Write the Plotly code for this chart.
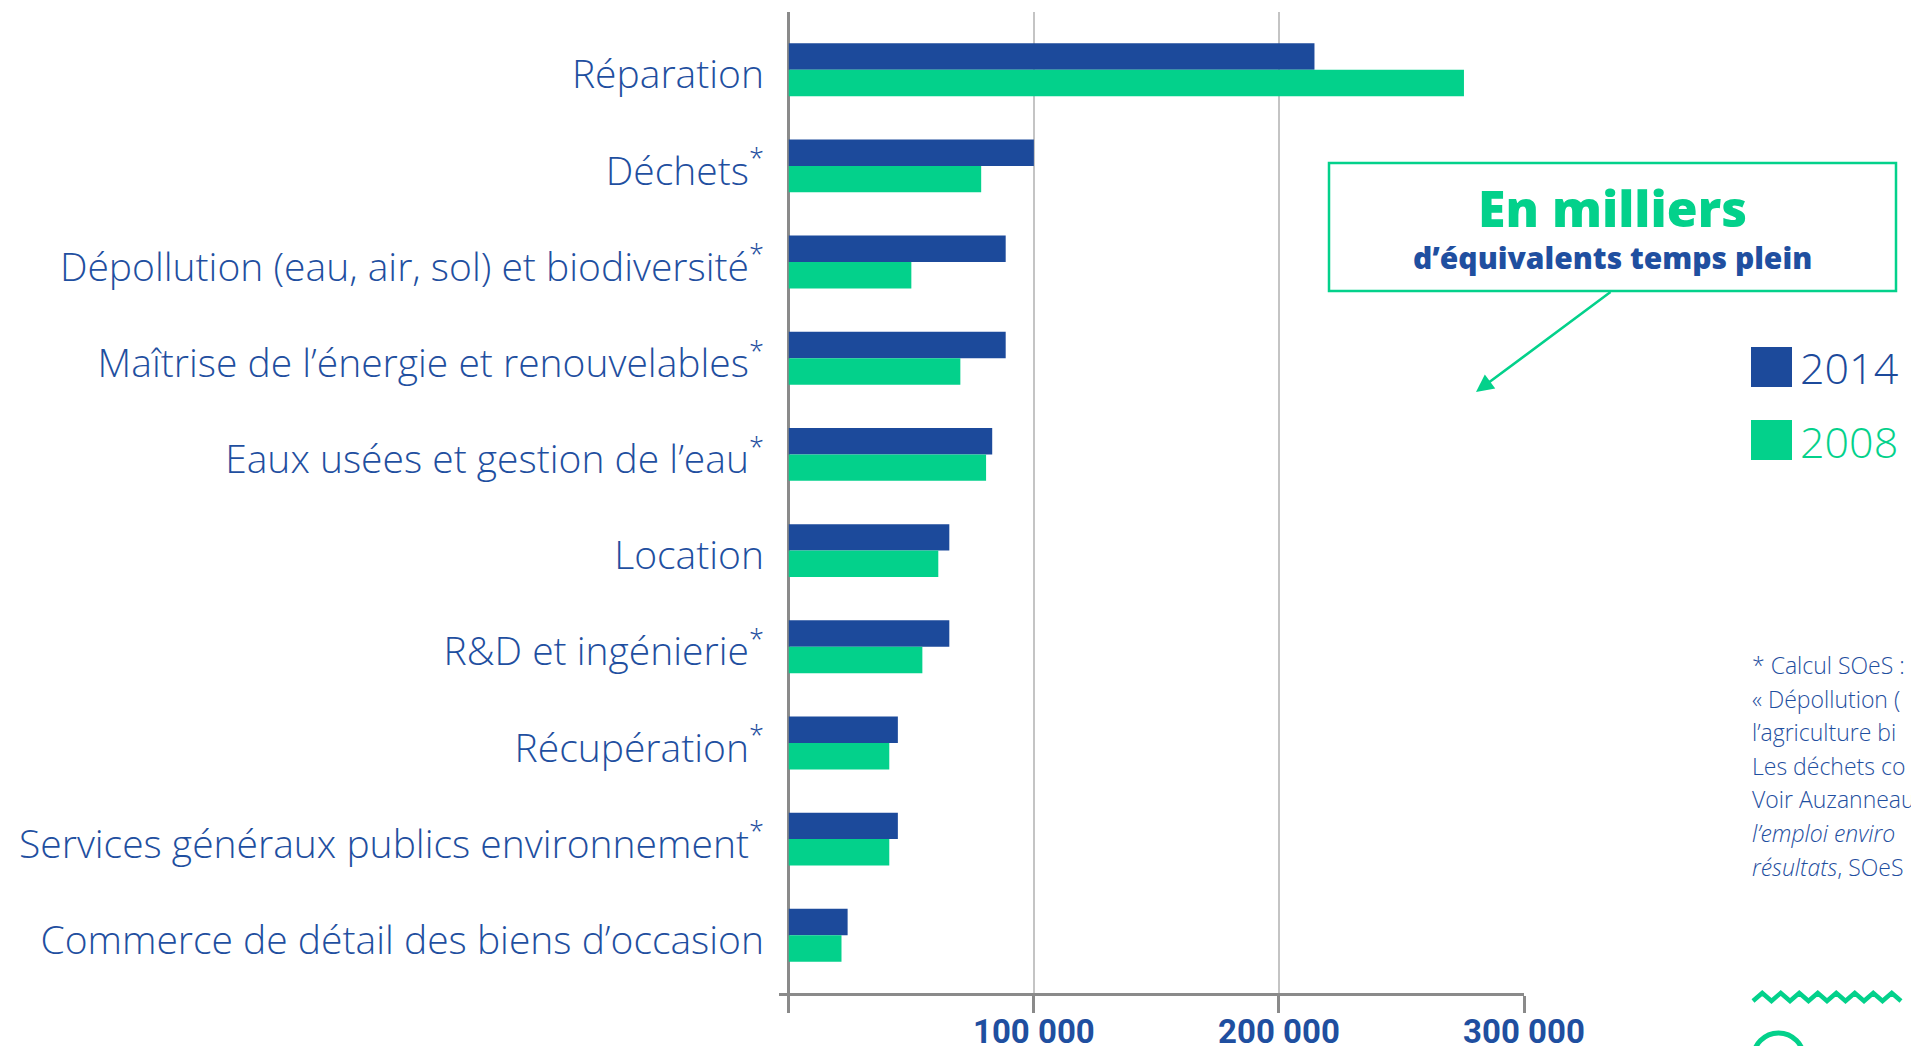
import plotly.graph_objects as go

categories = [
    "Réparation",
    "Déchets<sup>*</sup>",
    "Dépollution (eau, air, sol) et biodiversité<sup>*</sup>",
    "Maîtrise de l’énergie et renouvelables<sup>*</sup>",
    "Eaux usées et gestion de l’eau<sup>*</sup>",
    "Location",
    "R&D et ingénierie<sup>*</sup>",
    "Récupération<sup>*</sup>",
    "Services généraux publics environnement<sup>*</sup>",
    "Commerce de détail des biens d’occasion",
]
values_2014 = [214500, 100000, 88500, 88500, 83000, 65500, 65500, 44500, 44500, 24000]
values_2008 = [275500, 78500, 50000, 70000, 80500, 61000, 54500, 41000, 41000, 21500]
tick_vals = [0, 100000, 200000, 300000]
tick_text = ["", "100 000", "200 000", "300 000"]
series_names = ["2014", "2008"]

BLUE = "#1c4a9b"
GREEN = "#03d18b"
TEXT_BLUE = "#1f4fa0"

OFF = 8  # page body margin
W, H = 1919 - OFF, 1046 - OFF
# plot area in screen (reference) pixels
L, R, T, B = 779, 1524, 12, 993


def px(x):
    return (x - L) / (R - L)


def py(y):
    return (B - y) / (B - T)


fig = go.Figure()
fig.add_trace(go.Bar(y=categories, x=values_2014, orientation="h", name=series_names[0],
                     marker=dict(color=BLUE, line=dict(width=0))))
fig.add_trace(go.Bar(y=categories, x=values_2008, orientation="h", name=series_names[1],
                     marker=dict(color=GREEN, line=dict(width=0))))

shapes = []
annotations = []

# "En milliers" box
shapes.append(dict(type="rect", xref="paper", yref="paper",
                   x0=px(1329), x1=px(1896), y0=py(163), y1=py(291),
                   line=dict(color=GREEN, width=2.5), fillcolor="rgba(0,0,0,0)"))
annotations.append(dict(xref="paper", yref="paper", x=px(1612), y=py(208),
                        text="En milliers", showarrow=False,
                        font=dict(family="Open Sans", size=50, color=GREEN, weight=800),
                        xanchor="center", yanchor="middle"))
annotations.append(dict(xref="paper", yref="paper", x=px(1612), y=py(257),
                        text="d’équivalents temps plein", showarrow=False,
                        font=dict(family="Open Sans", size=30, color=TEXT_BLUE, weight=800),
                        xanchor="center", yanchor="middle"))
# arrow
annotations.append(dict(xref="paper", yref="paper", x=px(1476), y=py(392),
                        ax=1612 - 1476, ay=291 - 392, axref="pixel", ayref="pixel",
                        text="", showarrow=True, arrowhead=2, arrowsize=1.4,
                        arrowwidth=2.5, arrowcolor=GREEN))

# legend
leg = [(series_names[0], BLUE, 347), (series_names[1], GREEN, 420)]
for name, col, y0 in leg:
    shapes.append(dict(type="rect", xref="paper", yref="paper",
                       x0=px(1751), x1=px(1792), y0=py(y0), y1=py(y0 + 40),
                       line=dict(width=0), fillcolor=col))
    annotations.append(dict(xref="paper", yref="paper", x=px(1798), y=py(y0 + 21),
                            text=name, showarrow=False, xanchor="left", yanchor="middle",
                            font=dict(family="Open Sans", size=43, color=col, weight=300)))

# footnote (cut by the right edge in the original)
foot = [
    "* Calcul SOeS :",
    "« Dépollution (",
    "l’agriculture bi",
    "Les déchets co",
    "Voir Auzanneau",
    "<i>l’emploi enviro</i>",
    "<i>résultats</i>, SOeS",
]
for i, t in enumerate(foot):
    annotations.append(dict(xref="paper", yref="paper", x=px(1750), y=py(665 + i * 33.6),
                            text=t, showarrow=False, xanchor="left", yanchor="middle",
                            font=dict(family="Open Sans", size=23, color=TEXT_BLUE, weight=300)))

# decorative zigzag and circle
pts = []
x = 1753
i = 0
while x <= 1901:
    pts.append((x, 1001 if i % 2 == 0 else 993))
    x += 9.25
    i += 1
path = "M " + " L ".join(f"{px(a):.5f},{py(b):.5f}" for a, b in pts)
shapes.append(dict(type="path", xref="paper", yref="paper", path=path,
                   line=dict(color=GREEN, width=4.5)))
shapes.append(dict(type="circle", xref="paper", yref="paper",
                   x0=px(1753), x1=px(1804), y0=py(1033), y1=py(1085),
                   line=dict(color=GREEN, width=5)))

fig.update_layout(
    width=W, height=H,
    margin=dict(l=L - OFF, r=W - (R - OFF), t=T - OFF, b=H - (B - OFF), pad=0,
                autoexpand=False),
    paper_bgcolor="white", plot_bgcolor="white",
    barmode="group", bargap=0.45, bargroupgap=0,
    showlegend=False,
    shapes=shapes, annotations=annotations,
    xaxis=dict(range=[-4000, 300000], tickvals=tick_vals, ticktext=tick_text,
               automargin=False,
               showgrid=True, gridcolor="#c4c4c4", gridwidth=2,
               zeroline=True, zerolinecolor="#8a8a8a", zerolinewidth=2.5,
               showline=True, linecolor="#8a8a8a", linewidth=3,
               ticks="outside", ticklen=17, tickwidth=2.5, tickcolor="#8a8a8a",
               ticklabelstandoff=-10,
               tickfont=dict(family="Roboto", size=33,
                             color=TEXT_BLUE, weight="bold")),
    yaxis=dict(range=[9.6, -0.6], showgrid=False, zeroline=False, showline=False,
               automargin=False,
               ticks="", ticklabelstandoff=14, ticklabelshift=-5,
               tickfont=dict(family="Open Sans", size=39, color=TEXT_BLUE, weight=300)),
)

fig.write_html("out.html")
